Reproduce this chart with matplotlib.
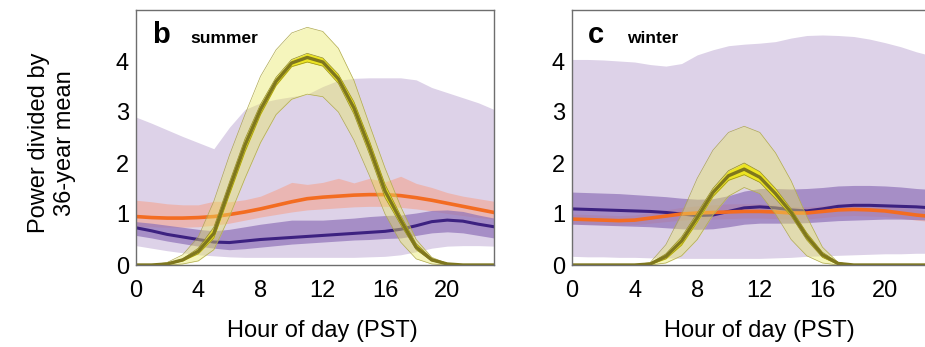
import numpy as np
import matplotlib
matplotlib.use('Agg')
import matplotlib.pyplot as plt

plt.rcParams['font.family'] = ['Liberation Sans', 'DejaVu Sans']

hours = np.arange(24)

# summer (panel b)
sol_mid_s = [0, 0, 0.02, 0.1, 0.27, 0.62, 1.5, 2.35, 3.05, 3.6, 3.96, 4.07, 3.98, 3.65, 3.08, 2.3, 1.45, 0.88, 0.35, 0.1, 0.02, 0, 0, 0]
sol_in_hi_s = [0, 0, 0.025, 0.12, 0.33, 0.74, 1.62, 2.47, 3.15, 3.68, 4.03, 4.15, 4.06, 3.74, 3.2, 2.43, 1.58, 0.97, 0.42, 0.13, 0.03, 0, 0, 0]
sol_in_lo_s = [0, 0, 0.015, 0.08, 0.22, 0.53, 1.38, 2.22, 2.95, 3.52, 3.89, 3.98, 3.9, 3.56, 2.96, 2.17, 1.32, 0.79, 0.3, 0.08, 0.015, 0, 0, 0]
sol_hi_s = [0, 0, 0.05, 0.2, 0.55, 1.25, 2.15, 2.95, 3.7, 4.22, 4.55, 4.66, 4.58, 4.25, 3.62, 2.75, 1.9, 1.15, 0.5, 0.15, 0.03, 0, 0, 0]
sol_lo_s = [0, 0, 0, 0.02, 0.08, 0.3, 0.95, 1.7, 2.4, 2.95, 3.25, 3.35, 3.3, 3.0, 2.45, 1.75, 1.0, 0.45, 0.12, 0.02, 0, 0, 0, 0]

wnd_mid_s = [0.73, 0.67, 0.6, 0.55, 0.5, 0.45, 0.44, 0.47, 0.5, 0.52, 0.54, 0.56, 0.58, 0.6, 0.62, 0.64, 0.66, 0.7, 0.77, 0.85, 0.88, 0.86, 0.8, 0.75]
wnd_in_hi_s = [0.85, 0.82, 0.78, 0.74, 0.7, 0.67, 0.7, 0.75, 0.8, 0.84, 0.88, 0.88, 0.88, 0.9, 0.92, 0.95, 0.97, 0.98, 1.02, 1.07, 1.08, 1.05, 0.98, 0.92]
wnd_in_lo_s = [0.58, 0.53, 0.47, 0.42, 0.37, 0.33, 0.3, 0.32, 0.35, 0.38, 0.41, 0.43, 0.45, 0.47, 0.49, 0.5, 0.52, 0.53, 0.58, 0.63, 0.65, 0.63, 0.58, 0.53]
wnd_out_hi_s = [2.9, 2.78, 2.65, 2.52, 2.4, 2.28, 2.7, 3.05, 3.18, 3.25, 3.3, 3.35, 3.5, 3.62, 3.66, 3.67, 3.67, 3.67, 3.63, 3.48, 3.38, 3.28, 3.18, 3.05]
wnd_out_lo_s = [0.38, 0.33, 0.28, 0.24, 0.2, 0.18, 0.16, 0.15, 0.15, 0.15, 0.15, 0.15, 0.15, 0.15, 0.15, 0.16, 0.17, 0.2, 0.26, 0.33, 0.37, 0.38, 0.38, 0.37]

ld_mid_s = [0.95, 0.93, 0.92, 0.92, 0.93, 0.95, 0.99, 1.04, 1.1, 1.17, 1.24, 1.3, 1.33, 1.35, 1.37, 1.38, 1.38, 1.36, 1.32, 1.27, 1.21, 1.15, 1.09, 1.03]
ld_hi_s = [1.27, 1.24, 1.2, 1.18, 1.18, 1.25, 1.24, 1.28, 1.35, 1.48, 1.62, 1.58, 1.62, 1.7, 1.61, 1.7, 1.63, 1.74, 1.6, 1.52, 1.42, 1.35, 1.3, 1.25]
ld_lo_s = [0.76, 0.75, 0.74, 0.74, 0.75, 0.78, 0.82, 0.88, 0.94, 0.99, 1.04, 1.08, 1.1, 1.12, 1.14, 1.15, 1.15, 1.13, 1.1, 1.06, 1.01, 0.97, 0.93, 0.9]

# winter (panel c)
sol_mid_w = [0, 0, 0, 0, 0, 0.02, 0.17, 0.47, 0.93, 1.42, 1.75, 1.88, 1.72, 1.4, 1.03, 0.56, 0.2, 0.03, 0, 0, 0, 0, 0, 0]
sol_in_hi_w = [0, 0, 0, 0, 0, 0.03, 0.22, 0.55, 1.02, 1.5, 1.85, 2.0, 1.83, 1.5, 1.1, 0.63, 0.25, 0.05, 0, 0, 0, 0, 0, 0]
sol_in_lo_w = [0, 0, 0, 0, 0, 0.01, 0.12, 0.39, 0.84, 1.34, 1.66, 1.77, 1.62, 1.3, 0.96, 0.49, 0.15, 0.01, 0, 0, 0, 0, 0, 0]
sol_hi_w = [0, 0, 0, 0, 0, 0.05, 0.4, 1.0, 1.7, 2.25, 2.6, 2.72, 2.6, 2.2, 1.65, 0.95, 0.35, 0.05, 0, 0, 0, 0, 0, 0]
sol_lo_w = [0, 0, 0, 0, 0, 0, 0.04, 0.18, 0.5, 0.98, 1.35, 1.52, 1.4, 1.0, 0.5, 0.18, 0.04, 0, 0, 0, 0, 0, 0, 0]

wnd_mid_w = [1.1, 1.09, 1.08, 1.07, 1.06, 1.05, 1.03, 1.0, 0.97, 0.98, 1.05, 1.12, 1.14, 1.12, 1.08, 1.06, 1.1, 1.15, 1.17, 1.17, 1.16, 1.15, 1.14, 1.12]
wnd_in_hi_w = [1.43, 1.42, 1.41, 1.4, 1.38, 1.36, 1.34, 1.31, 1.29, 1.3, 1.36, 1.45, 1.5, 1.5, 1.49, 1.5, 1.52, 1.55, 1.56, 1.56, 1.55, 1.53, 1.5, 1.48]
wnd_in_lo_w = [0.8, 0.79, 0.78, 0.77, 0.76, 0.75, 0.73, 0.71, 0.7, 0.71, 0.75, 0.8, 0.82, 0.82, 0.82, 0.83, 0.85, 0.87, 0.88, 0.89, 0.9, 0.9, 0.89, 0.88]
wnd_out_hi_w = [4.03, 4.03, 4.02, 4.0, 3.98, 3.93, 3.9, 3.95, 4.12, 4.22, 4.3, 4.33, 4.35, 4.38, 4.45, 4.5, 4.51, 4.5, 4.48, 4.43, 4.36, 4.28, 4.18, 4.1]
wnd_out_lo_w = [0.17, 0.16, 0.16, 0.15, 0.15, 0.14, 0.14, 0.13, 0.13, 0.13, 0.13, 0.13, 0.13, 0.14, 0.15, 0.17, 0.18, 0.19, 0.2, 0.21, 0.22, 0.22, 0.23, 0.23]

ld_mid_w = [0.9, 0.89, 0.88, 0.87, 0.88, 0.92, 0.96, 1.0, 1.02, 1.03, 1.04, 1.05, 1.05, 1.04, 1.02, 1.02, 1.05, 1.08, 1.09, 1.08, 1.06, 1.02, 0.98, 0.95]
ld_hi_w = [1.0, 0.99, 0.98, 0.97, 0.98, 1.03, 1.08, 1.13, 1.16, 1.18, 1.2, 1.2, 1.2, 1.18, 1.15, 1.14, 1.16, 1.19, 1.2, 1.19, 1.17, 1.13, 1.09, 1.05]
ld_lo_w = [0.81, 0.8, 0.79, 0.78, 0.79, 0.82, 0.85, 0.88, 0.9, 0.9, 0.91, 0.92, 0.92, 0.91, 0.9, 0.9, 0.93, 0.96, 0.97, 0.96, 0.95, 0.92, 0.88, 0.85]

xticks = [0, 4, 8, 12, 16, 20]
yticks = [0, 1, 2, 3, 4]


def draw(ax, sol, wnd, ld, letter, season):
    s_mid, s_ihi, s_ilo, s_hi, s_lo = sol
    w_mid, w_ihi, w_ilo, w_hi, w_lo = wnd
    l_mid, l_hi, l_lo = ld
    # wide light purple band
    ax.fill_between(hours, w_lo, w_hi, color='#ddd2e8', lw=0, zorder=1)
    # load band + purple inner band
    ax.fill_between(hours, l_lo, l_hi, color='#f4a490', alpha=0.6, lw=0, zorder=2)
    ax.fill_between(hours, w_ilo, w_ihi, color='#8f72b8', alpha=0.7, lw=0, zorder=3)
    ax.plot(hours, w_mid, color='#3c2180', lw=2.2, zorder=4)
    ax.plot(hours, l_mid, color='#f36c21', lw=2.6, zorder=5)
    # solar
    ax.fill_between(hours, s_lo, s_hi, color='#e8e860', alpha=0.42, lw=0, zorder=6)
    ax.plot(hours, s_hi, color='#b0aa50', lw=0.5, zorder=6)
    ax.plot(hours, s_lo, color='#b0aa50', lw=0.5, zorder=6)
    ax.fill_between(hours, s_ilo, s_ihi, color='#ece422', lw=0, zorder=7)
    ax.plot(hours, s_ihi, color='#948c22', lw=0.5, zorder=7)
    ax.plot(hours, s_ilo, color='#948c22', lw=0.5, zorder=7)
    ax.plot(hours, s_mid, color='#7f771e', lw=2.4, zorder=8)

    ax.set_xlim(0, 23)
    ax.set_ylim(0, 5)
    ax.set_xticks(xticks)
    ax.set_yticks(yticks)
    ax.tick_params(axis='x', length=0, pad=11, labelsize=17)
    ax.tick_params(axis='y', length=0, pad=5, labelsize=17)
    for sp in ax.spines.values():
        sp.set_color('#6e6e6e')
        sp.set_linewidth(1.0)
        sp.set_zorder(9)
    ax.text(0.045, 0.871, letter, transform=ax.transAxes, fontsize=21,
            fontweight='bold', va='baseline', ha='left')
    ax.text(0.152, 0.871, season, transform=ax.transAxes, fontsize=12.5,
            fontweight='bold', va='baseline', ha='left')
    ax.text(12, -0.259, 'Hour of day (PST)', transform=ax.get_xaxis_transform(),
            fontsize=17, ha='center', va='center')


fig = plt.figure(figsize=(9.25, 3.47), dpi=100)
ax1 = fig.add_axes([136 / 925, 82 / 347, 358 / 925, 255 / 347])
ax2 = fig.add_axes([572 / 925, 82 / 347, 360 / 925, 255 / 347])

draw(ax1, (sol_mid_s, sol_in_hi_s, sol_in_lo_s, sol_hi_s, sol_lo_s),
     (wnd_mid_s, wnd_in_hi_s, wnd_in_lo_s, wnd_out_hi_s, wnd_out_lo_s),
     (ld_mid_s, ld_hi_s, ld_lo_s), 'b', 'summer')
draw(ax2, (sol_mid_w, sol_in_hi_w, sol_in_lo_w, sol_hi_w, sol_lo_w),
     (wnd_mid_w, wnd_in_hi_w, wnd_in_lo_w, wnd_out_hi_w, wnd_out_lo_w),
     (ld_mid_w, ld_hi_w, ld_lo_w), 'c', 'winter')

fig.text(52 / 925, 1 - 143 / 347, 'Power divided by\n36-year mean', rotation=90,
         fontsize=17, ha='center', va='center', multialignment='center')

fig.savefig('out.png', dpi=100)
